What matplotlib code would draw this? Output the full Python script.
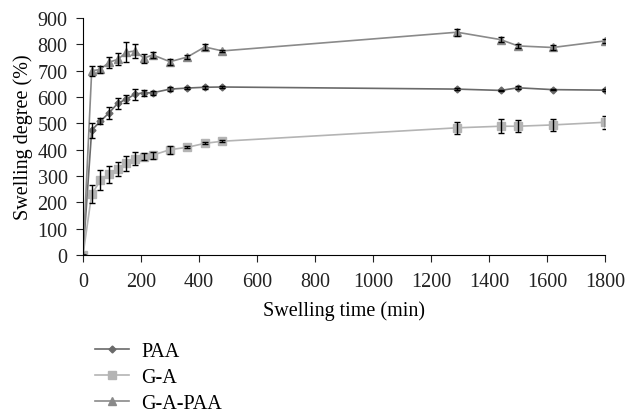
import numpy as np
import matplotlib
matplotlib.use("Agg")
from matplotlib import pyplot as plt

# swelling time (min)
tempo = [0, 30, 60, 90, 120, 150, 180, 210, 240, 300, 360, 420, 480, 1290, 1440, 1500, 1620, 1800]

# swelling degree (%) and standard deviation for each sample
paa = [0, 474, 508, 540, 576, 592, 611, 616, 616, 630, 634, 637, 638, 630, 625, 635, 628, 626]
paa_err = [0, 29, 12, 22, 20, 16, 21, 12, 8, 7, 3, 5, 4, 3, 3, 6, 3, 3]

ga = [0, 231, 283, 306, 328, 348, 366, 374, 379, 400, 409, 424, 432, 483, 489, 489, 494, 504]
ga_err = [0, 34, 38, 33, 27, 28, 25, 15, 13, 15, 4, 4, 4, 22, 27, 22, 22, 25]

gapaa = [0, 699, 705, 732, 743, 770, 775, 747, 760, 734, 752, 790, 775, 846, 818, 794, 788, 813]
gapaa_err = [0, 18, 12, 21, 23, 38, 27, 17, 12, 11, 7, 11, 5, 14, 8, 9, 9, 9]

plt.rcParams["font.family"] = ["Liberation Serif", "DejaVu Serif"]
plt.rcParams["font.size"] = 14.5

fig = plt.figure(figsize=(6.27, 4.14), dpi=100)
ax = fig.add_axes([83 / 627, 1 - 256 / 414, (605 - 83) / 627, (256 - 19) / 414])

series = [
    ("PAA", paa, paa_err, "#6a6a6a", "D", 3.5),
    ("G-A", ga, ga_err, "#b4b4b4", "s", 6),
    ("G-A-PAA", gapaa, gapaa_err, "#8a8a8a", "^", 6),
]
handles = []
for nome, y, err, cor, mk, ms in series:
    ax.errorbar(tempo, y, yerr=err, fmt="none", ecolor="black", elinewidth=1.0,
                capsize=2, capthick=1.0, zorder=3)
    h, = ax.plot(tempo, y, color=cor, marker=mk, markersize=ms, linewidth=1.2,
                 markeredgecolor=cor, label=nome, zorder=2)
    handles.append(h)

ax.set_xlim(0, 1800)
ax.set_ylim(0, 900)
ax.set_xticks(np.arange(0, 1801, 200))
ax.set_yticks(np.arange(0, 901, 100))
ax.spines["top"].set_visible(False)
ax.spines["right"].set_visible(False)
ax.tick_params(direction="out", length=5, width=0.8, colors="#222222")
ax.tick_params(axis="x", pad=7)
ax.tick_params(axis="y", pad=6)
ax.set_xlabel("Swelling time (min)", labelpad=7)
ax.set_ylabel("Swelling degree (%)", labelpad=3)

fig.legend(handles=handles, loc="upper left", bbox_to_anchor=(77 / 627, 1 - 325 / 414),
           frameon=False, handlelength=1.7, labelspacing=0.34, handletextpad=0.6)

fig.savefig("out.png", dpi=100)
